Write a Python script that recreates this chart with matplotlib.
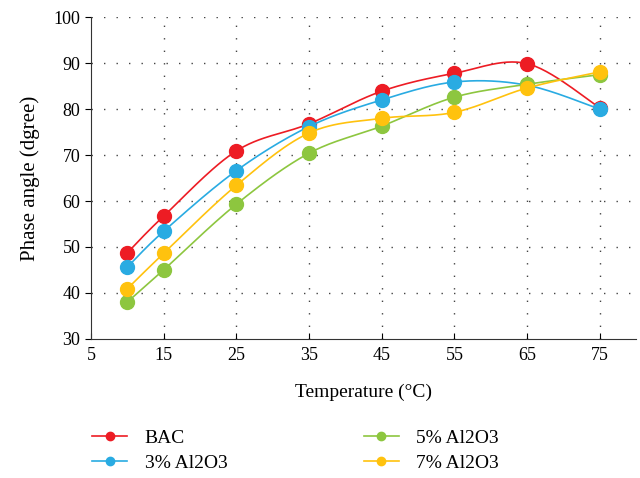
import numpy as np
from matplotlib import pyplot as plt
from matplotlib.lines import Line2D

plt.rcParams['font.family'] = ['Liberation Serif', 'DejaVu Serif']

temps = [10, 15, 25, 35, 45, 55, 65, 75]
bac = [48.7, 56.7, 70.9, 76.8, 83.9, 87.8, 89.9, 80.3]
al3 = [45.6, 53.4, 66.6, 76.2, 82.0, 85.9, 85.2, 80.0]
al5 = [38.0, 45.0, 59.3, 70.4, 76.3, 82.6, 85.4, 87.5]
al7 = [40.9, 48.6, 63.4, 74.8, 78.0, 79.3, 84.6, 88.1]

names = ["BAC", "3% Al2O3", "5% Al2O3", "7% Al2O3"]
colors = ["#ED1C24", "#29ABE2", "#8DC63F", "#FFC20E"]
series = [bac, al3, al5, al7]


def smooth(x, y, n=30):
    # curva suave tipo Excel (bezier con tangentes de Catmull-Rom)
    x = np.asarray(x, float)
    y = np.asarray(y, float)
    px, py = [], []
    for i in range(len(x) - 1):
        i0 = max(i - 1, 0)
        i3 = min(i + 2, len(x) - 1)
        c1x = x[i] + (x[i + 1] - x[i0]) / 6
        c1y = y[i] + (y[i + 1] - y[i0]) / 6
        c2x = x[i + 1] - (x[i3] - x[i]) / 6
        c2y = y[i + 1] - (y[i3] - y[i]) / 6
        t = np.linspace(0, 1, n)
        px.extend((1-t)**3*x[i] + 3*(1-t)**2*t*c1x + 3*(1-t)*t**2*c2x + t**3*x[i+1])
        py.extend((1-t)**3*y[i] + 3*(1-t)**2*t*c1y + 3*(1-t)*t**2*c2y + t**3*y[i+1])
    return px, py


fig = plt.figure(figsize=(6.4, 4.78), dpi=100)
ax = fig.add_axes([0.142, 0.291, 0.852, 0.673])

for name, col, vals in zip(names, colors, series):
    sx, sy = smooth(temps, vals)
    ax.plot(sx, sy, color=col, lw=1.2, zorder=3)
    ax.plot(temps, vals, 'o', color=col, ms=10, zorder=3)

ax.set_xlim(5, 80)
ax.set_ylim(30, 100)
ax.set_xticks([5, 15, 25, 35, 45, 55, 65, 75])
ax.set_yticks(range(30, 101, 10))
ax.tick_params(axis='x', direction='in', labelsize=13, length=4, pad=6)
ax.tick_params(axis='y', direction='out', labelsize=13, length=4)
ax.spines['top'].set_visible(False)
ax.spines['right'].set_visible(False)
ax.spines['left'].set_color('#333333')
ax.spines['bottom'].set_color('#333333')

for v in range(40, 101, 10):
    ax.axhline(v, color='#444444', lw=1, ls=(0, (1, 8)), zorder=1)
for v in [15, 25, 35, 45, 55, 65, 75]:
    ax.axvline(v, color='#444444', lw=1, ls=(0, (1, 8)), zorder=1)

ax.set_xlabel("Temperature (°C)", fontsize=14, labelpad=14)
ax.set_ylabel("Phase angle (dgree)", fontsize=15, labelpad=10)

handles = [Line2D([], [], color=c, marker='o', ms=6, lw=1.2) for c in colors]
fig.legend(handles, names, ncol=2, loc='upper left', bbox_to_anchor=(0.12, 0.134),
           frameon=False, fontsize=14, handlelength=1.8, columnspacing=7.0,
           handletextpad=0.9, labelspacing=0.35, borderpad=0.3)

fig.savefig("out.png", dpi=100)
